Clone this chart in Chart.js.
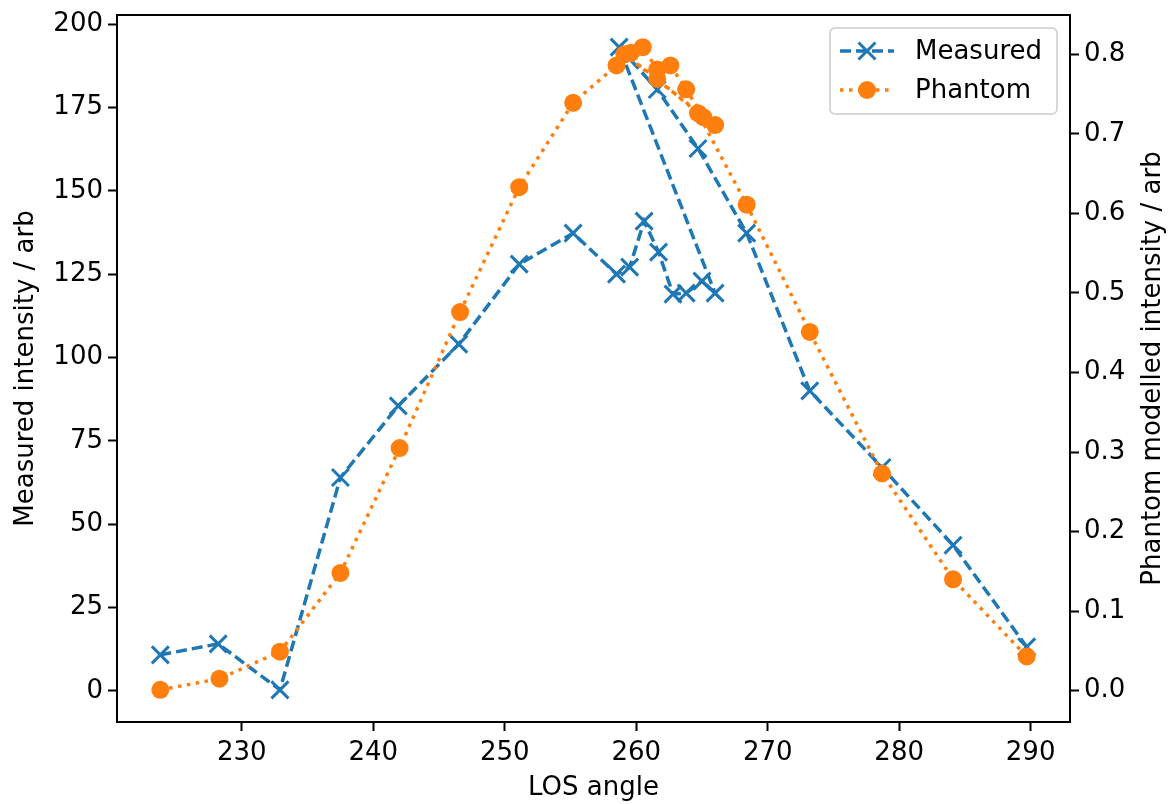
<!DOCTYPE html>
<html>
<head>
<meta charset="utf-8">
<script src="https://cdn.jsdelivr.net/npm/chart.js@4.4.0/dist/chart.umd.min.js"></script>
<style>
  html, body { margin: 0; padding: 0; background: #fff; }
  #wrap { width: 1169px; height: 804px; }
</style>
</head>
<body>
<div id="wrap"><canvas id="chart-los" width="1169" height="804"></canvas></div>
<script>
// values
const measuredAngle = [223.8, 228.2, 232.9, 237.5, 241.9, 246.5, 251.1, 255.2, 258.5, 259.5, 260.6, 261.7,
                       262.8, 263.8, 265.0, 266.0, 258.7, 261.6, 264.7, 268.4, 273.2, 278.7, 284.1, 289.7];
const measuredIntensity = [10.8, 14.1, 0.3, 64.0, 85.5, 104.0, 128.0, 137.3, 125.0, 127.1, 140.9, 131.6,
                           119.0, 119.3, 122.9, 119.3, 193.1, 180.4, 162.7, 137.3, 90.0, 67.0, 43.7, 13.2];
const phantomAngle = [223.8, 228.3, 232.9, 237.5, 242.0, 246.6, 251.1, 255.2, 258.5, 259.6, 260.5, 261.6,
                      262.6, 263.8, 265.1, 266.0, 259.1, 261.6, 264.7, 268.4, 273.2, 278.7, 284.1, 289.7];
const phantomIntensity = [0.001, 0.015, 0.049, 0.148, 0.305, 0.476, 0.633, 0.739, 0.786, 0.802, 0.809, 0.781,
                          0.786, 0.756, 0.721, 0.711, 0.800, 0.769, 0.726, 0.611, 0.451, 0.273, 0.140, 0.043];

const xTicks = [230, 240, 250, 260, 270, 280, 290];
const leftTicks = [0, 25, 50, 75, 100, 125, 150, 175, 200];
const rightTicks = [0.0, 0.1, 0.2, 0.3, 0.4, 0.5, 0.6, 0.7, 0.8];

const BLUE = '#1f77b4';
const ORANGE = '#ff7f0e';
const FONT = 'DejaVu Sans';
const FSIZE = 26;

// matplotlib style 5% margins
function padded(arr) {
    const lo = Math.min(...arr), hi = Math.max(...arr), m = (hi - lo) * 0.05;
    return [lo - m, hi + m];
}
const xRange = padded(measuredAngle.concat(phantomAngle));
const leftRange = padded(measuredIntensity);
const rightRange = padded(phantomIntensity);

function toPoints(xs, ys) {
    return xs.map((x, i) => ({x: x, y: ys[i]}));
}

const tickGrid = {
    drawOnChartArea: false,
    drawTicks: true,
    tickLength: 9,
    tickWidth: 2,
    tickColor: '#000'
};

function noPad(s) {
    s.paddingTop = 0;
    s.paddingBottom = 0;
    s.paddingLeft = 0;
    s.paddingRight = 0;
}

// frame, right axis title and legend, matplotlib look
const extras = {
    id: 'extras',
    afterDraw(chart) {
        const {ctx, chartArea} = chart;
        ctx.save();
        ctx.strokeStyle = '#000';
        ctx.lineWidth = 2;
        ctx.strokeRect(chartArea.left, chartArea.top, chartArea.right - chartArea.left, chartArea.bottom - chartArea.top);

        ctx.fillStyle = '#000';
        ctx.font = FSIZE + 'px "' + FONT + '"';
        ctx.textAlign = 'center';
        ctx.textBaseline = 'middle';
        ctx.translate(1153, (chartArea.top + chartArea.bottom) / 2);
        ctx.rotate(-Math.PI / 2);
        ctx.fillText('Phantom modelled intensity / arb', 0, 0);
        ctx.restore();

        // legend
        const w = 227, h = 86;
        const x0 = chartArea.right - 13 - w, y0 = chartArea.top + 13;
        ctx.save();
        ctx.beginPath();
        ctx.roundRect(x0, y0, w, h, 5);
        ctx.fillStyle = 'rgba(255,255,255,0.8)';
        ctx.fill();
        ctx.strokeStyle = '#cccccc';
        ctx.lineWidth = 1.5;
        ctx.stroke();

        const rows = [
            {label: 'Measured', color: BLUE, dash: [11, 5], marker: 'x', y: y0 + 23},
            {label: 'Phantom', color: ORANGE, dash: [3.5, 5.5], marker: 'o', y: y0 + 62}
        ];
        rows.forEach(r => {
            ctx.strokeStyle = r.color;
            ctx.lineWidth = 3.5;
            ctx.setLineDash(r.dash);
            ctx.beginPath();
            ctx.moveTo(x0 + 10, r.y);
            ctx.lineTo(x0 + 64, r.y);
            ctx.stroke();
            ctx.setLineDash([]);
            const cx = x0 + 37;
            if (r.marker === 'x') {
                ctx.lineWidth = 3;
                ctx.beginPath();
                ctx.moveTo(cx - 8.5, r.y - 8.5); ctx.lineTo(cx + 8.5, r.y + 8.5);
                ctx.moveTo(cx - 8.5, r.y + 8.5); ctx.lineTo(cx + 8.5, r.y - 8.5);
                ctx.stroke();
            } else {
                ctx.fillStyle = r.color;
                ctx.beginPath();
                ctx.arc(cx, r.y, 9, 0, Math.PI * 2);
                ctx.fill();
            }
            ctx.fillStyle = '#000';
            ctx.font = FSIZE + 'px "' + FONT + '"';
            ctx.textAlign = 'left';
            ctx.textBaseline = 'middle';
            ctx.fillText(r.label, x0 + 85, r.y + 1);
        });
        ctx.restore();
    }
};

const ctx = document.getElementById('chart-los').getContext('2d');
const chartLos = new Chart(ctx, {
    type: 'line',
    data: {
        datasets: [
            {
                label: 'Phantom',
                data: toPoints(phantomAngle, phantomIntensity),
                yAxisID: 'yRight',
                borderColor: ORANGE,
                backgroundColor: ORANGE,
                borderWidth: 3.5,
                borderDash: [3.5, 5.5],
                pointStyle: 'circle',
                pointRadius: 9,
                pointBorderWidth: 0,
                tension: 0,
                order: 0
            },
            {
                label: 'Measured',
                data: toPoints(measuredAngle, measuredIntensity),
                yAxisID: 'yLeft',
                borderColor: BLUE,
                backgroundColor: BLUE,
                borderWidth: 3.5,
                borderDash: [11, 5],
                pointStyle: 'crossRot',
                pointRadius: 12,
                pointBorderWidth: 3,
                pointBorderColor: BLUE,
                tension: 0,
                order: 1
            }
        ]
    },
    options: {
        responsive: false,
        animation: false,
        devicePixelRatio: 1,
        layout: {padding: {top: 12, left: 0, right: 0, bottom: 0}},
        plugins: {
            legend: {display: false},
            tooltip: {enabled: false}
        },
        scales: {
            x: {
                type: 'linear',
                position: 'bottom',
                min: xRange[0],
                max: xRange[1],
                afterBuildTicks: s => { s.ticks = xTicks.map(v => ({value: v})); },
                afterFit: s => { noPad(s); s.height = 82; },
                border: {display: false},
                grid: tickGrid,
                ticks: {color: '#000', font: {family: FONT, size: FSIZE}, padding: 7, maxRotation: 0},
                title: {display: true, text: 'LOS angle', color: '#000', font: {family: FONT, size: FSIZE}, padding: {top: 2, bottom: 0}}
            },
            yLeft: {
                type: 'linear',
                position: 'left',
                min: leftRange[0],
                max: leftRange[1],
                afterBuildTicks: s => { s.ticks = leftTicks.map(v => ({value: v})); },
                afterFit: s => { noPad(s); s.width = 117; },
                border: {display: false},
                grid: tickGrid,
                ticks: {color: '#000', font: {family: FONT, size: FSIZE}, padding: 5},
                title: {display: true, text: 'Measured intensity / arb', color: '#000', font: {family: FONT, size: FSIZE}, padding: {top: 11, bottom: 0}}
            },
            yRight: {
                type: 'linear',
                position: 'right',
                min: rightRange[0],
                max: rightRange[1],
                afterBuildTicks: s => { s.ticks = rightTicks.map(v => ({value: v})); },
                afterFit: s => { noPad(s); s.width = 99; },
                border: {display: false},
                grid: tickGrid,
                ticks: {color: '#000', font: {family: FONT, size: FSIZE}, padding: 5,
                        callback: v => v.toFixed(1)}
            }
        }
    },
    plugins: [extras]
});
</script>
</body>
</html>
